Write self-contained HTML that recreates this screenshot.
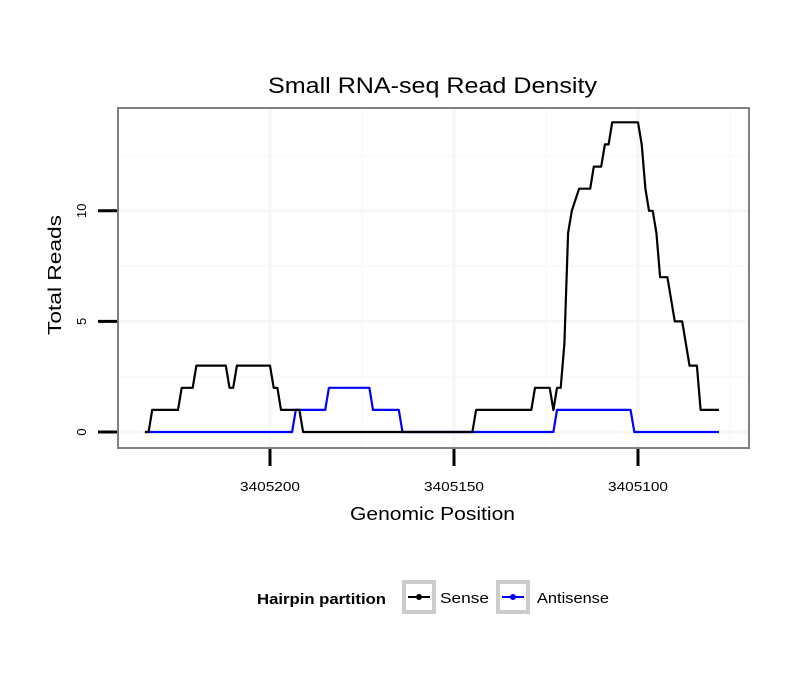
<!DOCTYPE html>
<html><head><meta charset="utf-8"><style>
body{margin:0;background:#fff}
svg text{font-family:"Liberation Sans",sans-serif}
</style></head><body>
<svg id="chart" width="810" height="690" xmlns="http://www.w3.org/2000/svg">
<rect width="810" height="690" fill="#fff"/>
<text x="268" y="93" font-size="22" textLength="329" lengthAdjust="spacingAndGlyphs">Small RNA-seq Read Density</text>
<g id="grid"></g>
<rect x="118" y="108" width="631" height="340" fill="none" stroke="#808080" stroke-width="2"/>
<g id="series"></g>
<g id="axes"></g>
<text x="350" y="520" font-size="18" textLength="165" lengthAdjust="spacingAndGlyphs">Genomic Position</text>
<text transform="translate(61,335) rotate(-90)" font-size="18" textLength="120" lengthAdjust="spacingAndGlyphs">Total Reads</text>
<g>
<text x="257" y="604" font-size="15" font-weight="bold" textLength="129" lengthAdjust="spacingAndGlyphs">Hairpin partition</text>
<g>
<rect x="404" y="582" width="30" height="30" fill="#fff" stroke="#ccc" stroke-width="4"/>
<line x1="408" y1="597" x2="430" y2="597" stroke="#000" stroke-width="2"/><circle cx="419" cy="597" r="3" fill="#000"/>
<text x="440" y="603" font-size="15" textLength="49" lengthAdjust="spacingAndGlyphs">Sense</text></g>
<g>
<rect x="498" y="582" width="30" height="30" fill="#fff" stroke="#ccc" stroke-width="4"/>
<line x1="502" y1="597" x2="524" y2="597" stroke="#00f" stroke-width="2"/><circle cx="513" cy="597" r="3" fill="#00f"/>
<text x="537" y="603" font-size="15" textLength="72" lengthAdjust="spacingAndGlyphs">Antisense</text></g>
</g>
</svg>
<script>
const senseX=[3405234,3405233,3405232,3405225,3405224,3405221,3405220,3405212,3405211,3405210,3405209,3405200,3405199,3405198,3405197,3405192,3405191,3405145,3405144,3405129,3405128,3405124,3405123,3405122,3405121,3405120,3405119,3405118,3405116,3405113,3405112,3405110,3405109,3405108,3405107,3405100,3405099,3405098,3405097,3405096,3405095,3405094,3405092,3405090,3405088,3405086,3405084,3405083,3405078];
const senseY=[0,0,1,1,2,2,3,3,2,2,3,3,2,2,1,1,0,0,1,1,2,2,1,2,2,4,9,10,11,11,12,12,13,13,14,14,13,11,10,10,9,7,7,5,5,3,3,1,1];
const antiX=[3405234,3405194,3405193,3405185,3405184,3405173,3405172,3405165,3405164,3405123,3405122,3405102,3405101,3405078];
const antiY=[0,0,1,1,2,2,1,1,0,0,1,1,0,0];
const xTicks=[3405200,3405150,3405100];
const xMinor=[3405175,3405125,3405075];
const yTicks=[0,5,10];
const yMinor=[2.5,7.5,12.5];
const NS='http://www.w3.org/2000/svg';
const sx=p=>270+(3405200-p)*3.68;
const sy=v=>432-v*22.12;
function mk(tag,attrs,parent){const e=document.createElementNS(NS,tag);for(const k in attrs)e.setAttribute(k,attrs[k]);parent.appendChild(e);return e;}
const grid=document.getElementById('grid'),axes=document.getElementById('axes'),series=document.getElementById('series');
yMinor.forEach(v=>{const l=mk('line',{x1:119,x2:748,y1:sy(v),y2:sy(v),stroke:'#fafafa','stroke-width':2},grid);

});
xMinor.forEach(p=>{const l=mk('line',{x1:sx(p),x2:sx(p),y1:109,y2:447,stroke:'#fafafa','stroke-width':2},grid);

});
yTicks.forEach(v=>{const l=mk('line',{x1:119,x2:748,y1:sy(v),y2:sy(v),stroke:'#f6f6f6','stroke-width':3},grid);


const t=mk('line',{x1:98,x2:117,y1:sy(v),y2:sy(v),stroke:'#000','stroke-width':3},axes);


const tx=mk('text',{transform:`translate(86,${sy(v)}) rotate(-90)`,'font-size':13,'text-anchor':'middle'},axes);tx.textContent=v;

});
xTicks.forEach(p=>{const l=mk('line',{x1:sx(p),x2:sx(p),y1:109,y2:447,stroke:'#f6f6f6','stroke-width':3},grid);


const t=mk('line',{x1:sx(p),x2:sx(p),y1:449,y2:466,stroke:'#000','stroke-width':3},axes);


const tx=mk('text',{x:sx(p)-30,y:491,'font-size':13,textLength:60,lengthAdjust:'spacingAndGlyphs'},axes);tx.textContent=p;

});
function line(xs,ys,color,name){const d=xs.map((p,i)=>`${sx(p).toFixed(1)},${sy(ys[i]).toFixed(1)}`).join(' ');
const pl=mk('polyline',{points:d,fill:'none',stroke:color,'stroke-width':2.2,'stroke-linejoin':'round'},series);

}
line(antiX,antiY,'#0000ff','antisense-line');
line(senseX,senseY,'#000000','sense-line');
</script>
</body></html>
